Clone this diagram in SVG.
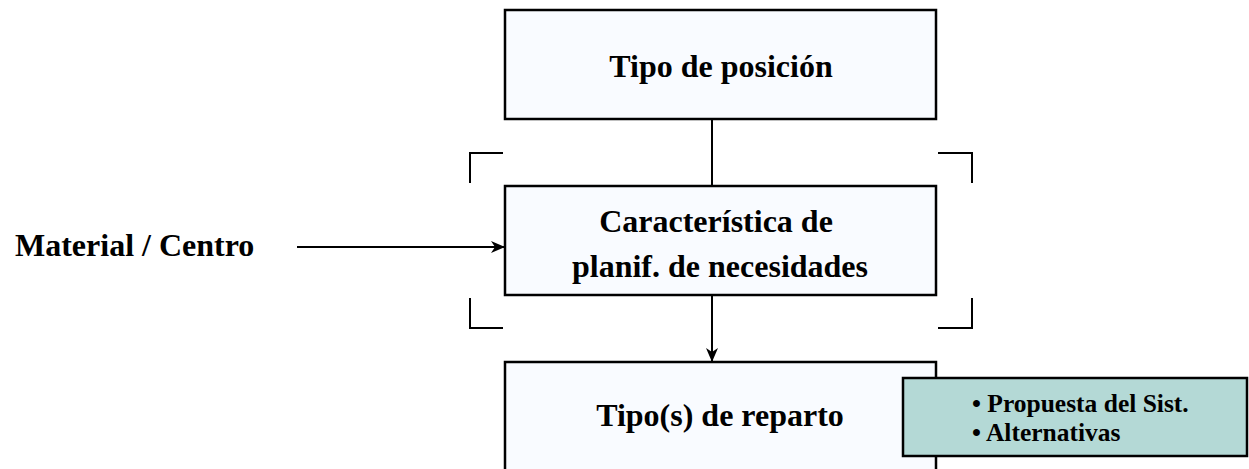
<svg xmlns="http://www.w3.org/2000/svg" width="1249" height="469" viewBox="0 0 1249 469">
<style>
.box{fill:#f9fbff;stroke:#000;stroke-width:2.5}
.note{fill:#b4d9d6;stroke:#000;stroke-width:2.5}
.t{font-family:"Liberation Serif","Times New Roman",serif;font-weight:bold;font-size:32px;fill:#000}
.s{font-family:"Liberation Serif","Times New Roman",serif;font-weight:bold;font-size:25.5px;fill:#000}
.ln{fill:none;stroke:#000;stroke-width:2}
</style>
<defs>
<marker id="ah" markerWidth="14" markerHeight="12" refX="13" refY="6" orient="auto" markerUnits="userSpaceOnUse">
<path d="M0,0 L14,6 L0,12 L4,6 Z" fill="#000"/>
</marker>
</defs>
<rect width="1249" height="469" fill="#fff"/>
<g id="connectors">
<line class="ln" x1="712" y1="119" x2="712" y2="186"/>
<line class="ln" x1="712" y1="295" x2="712" y2="361" marker-end="url(#ah)"/>
<line class="ln" x1="297" y1="247" x2="504" y2="247" marker-end="url(#ah)"/>
</g>
<g id="brackets">
<path class="ln" d="M503,153 H470 V183"/>
<path class="ln" d="M938,153 H972 V183"/>
<path class="ln" d="M470,298 V328 H503"/>
<path class="ln" d="M972,298 V328 H938"/>
</g>
<g id="tipo-posicion">
<rect class="box" x="505" y="10" width="431" height="109"/>
<text class="t" x="721" y="77" text-anchor="middle">Tipo de posición</text>
</g>
<g id="caracteristica">
<rect class="box" x="505" y="186" width="431" height="109"/>
<text class="t" x="716" y="232" text-anchor="middle">Característica de</text>
<text class="t" x="720" y="277" text-anchor="middle">planif. de necesidades</text>
</g>
<g id="material-centro">
<text class="t" x="15" y="256">Material / Centro</text>
</g>
<g id="tipo-reparto">
<rect class="box" x="505" y="362" width="431" height="120"/>
<text class="t" x="720" y="426" text-anchor="middle">Tipo(s) de reparto</text>
</g>
<g id="nota">
<rect class="note" x="903" y="378" width="344" height="78"/>
<text class="s" x="972" y="412">• Propuesta del Sist.</text>
<text class="s" x="972" y="441">• Alternativas</text>
</g>
</svg>
